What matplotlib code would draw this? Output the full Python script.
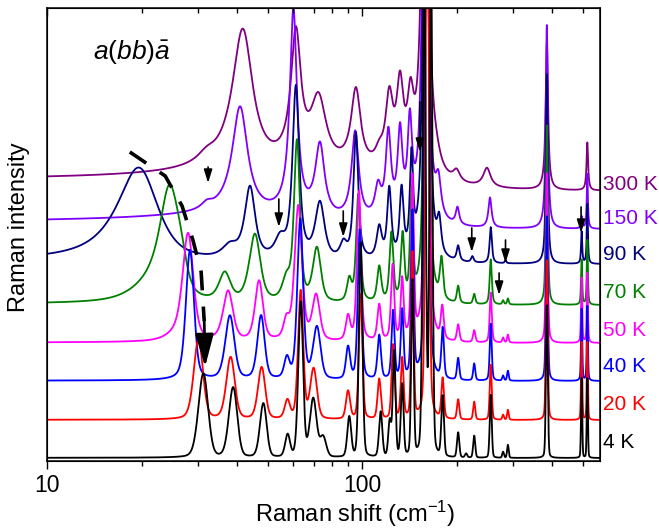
import numpy as np
import matplotlib
matplotlib.use("Agg")
import matplotlib.pyplot as plt
from matplotlib import ticker

plt.rcParams['font.family'] = ['Liberation Sans', 'DejaVu Sans']
plt.rcParams['mathtext.fontset'] = 'custom'
plt.rcParams['mathtext.rm'] = 'Liberation Sans'
plt.rcParams['mathtext.it'] = 'Liberation Sans:italic'

# curves, top to bottom
labels = ['300 K', '150 K', '90 K', '70 K', '50 K', '40 K', '20 K', '4 K']
colors = ['#800080', '#8000ff', '#000080', '#008000', '#ff00ff', '#0000ff', '#ff0000', '#000000']
offsets = [270, 232, 197, 156, 118, 80, 41, 3]
lorentz_frac = [1.0, 1.0, 0.8, 0.6, 0.5, 0.4, 0.3, 0.2]

# peak tables: (centre cm-1, height, half width)
p300 = [(70, 19, 70), (32, 8, 2.5), (41.7, 140, 3.8), (61.5, 127, 2.7), (72.5, 66, 5),
        (95.3, 77, 4), (113, 12, 4), (121.6, 68, 4), (131.5, 79, 4), (142, 62, 4),
        (158, 600, 3.5), (170, 15, 8), (198.6, 11, 6), (248, 19, 8), (384, 147, 4),
        (516, 48, 3.5)]
p150 = [(40, 12, 40), (32.1, 6, 1.5), (40.9, 107, 2.8), (60.4, 204, 1.9), (73.3, 72, 3),
        (94.8, 88, 3), (112, 30, 3), (120.8, 84, 2.8), (131.5, 83, 2.8), (141.3, 91, 2.8),
        (158, 600, 3), (174, 36, 4), (200, 17, 3), (253.6, 30, 3.5), (384, 204, 3.5),
        (495, 12, 2.5), (516, 55, 2.5)]
p90 = [(19.5, 95, 3.5), (38, 12, 2.5), (44, 72, 2.0), (54.8, 18, 2.5), (61.5, 172, 1.8),
       (73.3, 57, 3), (87, 15, 2.5), (95.3, 127, 2), (113, 31, 2.5), (121.6, 69, 2.2),
       (133, 66, 2.2), (143, 94, 2), (159, 700, 3), (175, 32, 3), (201, 15, 2.5),
       (223, 6, 2.5), (255, 36, 2.5), (284, 3, 2), (384, 190, 3.3), (495, 32, 2.5),
       (516, 60, 2.5)]
p70 = [(21, 15, 3), (24.4, 105, 2.0), (26.5, 25, 1.5), (36.6, 28, 1.8), (45.6, 68, 2.2),
       (57.4, 20, 2), (62, 160, 1.6), (71.7, 54, 2.5), (90.8, 22, 1.8), (97, 108, 1.8),
       (113, 35, 2), (123.5, 68, 2), (134, 65, 2), (143, 105, 1.8), (159.5, 700, 2.7),
       (178, 40, 2.5), (201, 17, 2.2), (226, 10, 2.2), (255, 45, 2.4), (279, 4, 2),
       (289, 6, 2), (384, 180, 3.2), (495, 45, 2.5), (516, 65, 2.5)]
p50 = [(25.5, 5, 2), (28, 107, 1.3), (37.5, 50, 1.6), (47, 60, 1.6), (57.4, 18, 1.4),
       (62.6, 135, 2), (71.3, 45, 2.3), (90, 24, 1.7), (97.5, 150, 1.7), (113, 36, 1.8),
       (124.6, 75, 1.7), (133.6, 60, 1.7), (144, 160, 1.7), (160, 700, 2.5), (179, 32, 2.2),
       (201, 17, 2.2), (226, 12, 2.2), (255, 50, 2.3), (279, 5, 2), (289, 8, 2),
       (384, 170, 3), (495, 65, 2.5), (516, 70, 2.5)]
p40 = [(28.4, 130, 1.0), (38, 64, 1.5), (47.7, 64, 1.5), (57.6, 20, 1.3), (63.5, 160, 1.6),
       (71.7, 52, 2.3), (90, 32, 1.6), (98, 150, 1.6), (113, 44, 1.7), (125, 68, 1.6),
       (133.6, 68, 1.6), (144, 165, 1.6), (160, 700, 2.3), (179.5, 50, 2), (201, 22, 2),
       (226, 17, 2), (255, 57, 2.2), (279, 5, 2), (289, 10, 2), (384, 165, 3),
       (495, 72, 2.5), (516, 75, 2.5)]
p20 = [(30.2, 80, 1.2), (38.2, 62, 1.4), (47.9, 52, 1.5), (57.8, 18, 1.3), (63.7, 128, 1.4),
       (70, 50, 2), (90, 28, 1.6), (98.7, 125, 1.5), (113, 40, 1.6), (125, 74, 1.6),
       (133.6, 60, 1.6), (144, 165, 1.5), (160.5, 600, 2.2), (179.5, 40, 2), (201, 20, 2),
       (226, 18, 2), (255, 55, 2.2), (279, 5, 2), (289, 10, 2), (384, 160, 3),
       (495, 78, 2.5), (516, 78, 2.5)]
p4 = [(31.3, 84, 1.3), (38.9, 70, 1.4), (48.5, 54, 1.4), (57.9, 22, 1.2), (63.7, 155, 1.3),
      (69.8, 58, 2.0), (75, 20, 2.0), (90.8, 40, 1.5), (98.7, 215, 1.5), (114.2, 45, 1.6),
      (122, 35, 1.5), (126, 105, 1.5), (133.6, 72, 1.6), (144, 175, 1.5), (156.9, 500, 2),
      (164.9, 500, 2), (179.5, 60, 2.0), (201, 25, 2.0), (213, 4, 2), (226, 22, 2.0),
      (255, 63, 2.2), (279, 6, 2), (289, 13, 2), (384, 153, 3), (495, 80, 2.5),
      (516, 80, 2.5)]
peak_tables = [p300, p150, p90, p70, p50, p40, p20, p4]

label_y = [276, 243, 206, 169, 131, 94, 56, 19]

# soft mode trace (dashed) and marked weak modes (arrows)
soft_x = [18.3, 23.7, 26.8, 29.0, 30.8, 31.5]
soft_y = [309, 285, 255, 221, 189, 140]
arrow_x = [32.4, 54.3, 86.9, 152, 493, 222, 284, 271]
arrow_top = [294, 262, 250, 359, 254, 233, 221, 188]
arrow_tip = [278, 234, 224, 309, 228, 209, 198, 166]


def spectrum(w, base, table, eta):
    y = np.full_like(w, float(base))
    for c, h, g in table:
        d = (w - c) / g
        y += h * (eta / (1 + d ** 2) + (1 - eta) * np.exp(-np.log(2) * d ** 2))
    return y


fig = plt.figure(figsize=(6.59, 5.29), dpi=100)
ax = fig.add_axes([47 / 659, 68 / 529, 553 / 659, 453 / 529])

w = np.geomspace(10, 566, 4000)
for lab, col, off, tab, eta, ly in zip(labels, colors, offsets, peak_tables, lorentz_frac, label_y):
    ax.plot(w, spectrum(w, off, tab, eta), color=col, lw=1.3)
    ax.text(1.006, ly, lab, color=col, fontsize=15, va='center', ha='left',
            transform=ax.get_yaxis_transform(), clip_on=False)

ax.plot(soft_x, soft_y, color='k', lw=2.6, ls=(0, (5.5, 4.5)))
ax.annotate('', xy=(31.7, 94), xytext=(31.5, 140),
            arrowprops=dict(arrowstyle='-|>,head_length=1.0,head_width=0.28',
                            mutation_scale=20, color='k', lw=2, shrinkA=0, shrinkB=0))
for x, yt, yb in zip(arrow_x, arrow_top, arrow_tip):
    ax.annotate('', xy=(x, yb), xytext=(x, yt),
                arrowprops=dict(arrowstyle='-|>,head_length=0.8,head_width=0.25',
                                mutation_scale=10, color='k', lw=1.2, shrinkA=0, shrinkB=0))

ax.text(18.5, 409, r'$a(bb)\bar{a}$', fontsize=19, ha='center', va='center')

ax.set_xscale('log')
ax.set_xlim(10, 566)
ax.set_ylim(0, 453)
ax.xaxis.set_major_formatter(ticker.FuncFormatter(lambda v, p: f'{v:g}'))
ax.xaxis.set_minor_formatter(ticker.NullFormatter())
ax.tick_params(axis='x', which='major', direction='out', length=5.5, width=1, labelsize=16.5)
ax.tick_params(axis='x', which='minor', direction='out', length=3.5, width=1)
ax.tick_params(axis='y', left=False, labelleft=False)
for s in ax.spines.values():
    s.set_linewidth(1.1)

top = ax.twiny()
top.set_xscale('log')
top.set_xlim(ax.get_xlim())
top.xaxis.set_major_formatter(ticker.NullFormatter())
top.xaxis.set_minor_formatter(ticker.NullFormatter())
top.tick_params(axis='x', which='major', direction='in', length=5.5, width=1)
top.tick_params(axis='x', which='minor', direction='in', length=3.5, width=1)

fig.text(19 / 659, 1 - 227 / 529, 'Raman intensity', rotation=90, fontsize=17,
         ha='center', va='center')
fig.text(355 / 659, 1 - 514 / 529, 'Raman shift (cm$^{-1}$)', fontsize=17,
         ha='center', va='center')

fig.savefig('out.png', dpi=100)
